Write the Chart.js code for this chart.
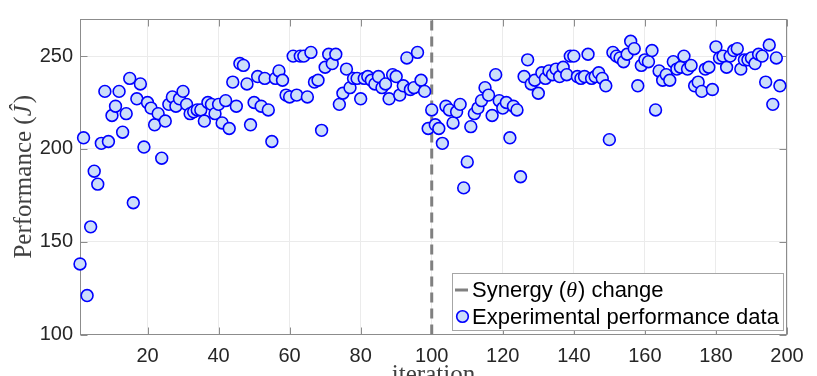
<!DOCTYPE html>
<html><head><meta charset="utf-8">
<script src="https://cdn.jsdelivr.net/npm/chart.js@4.4.1/dist/chart.umd.min.js"></script>
<style>
html,body{margin:0;padding:0;background:#fff;overflow:hidden;width:817px;height:376px;}
#wrap{position:relative;width:817px;height:394px;}
canvas{display:block;}
</style></head><body>
<div id="wrap"><canvas id="c" width="817" height="394"></canvas></div>
<script>
// ---- data ----
const iterations = [1,2,3,4,5,6,7,8,9,10,11,12,13,14,15,16,17,18,19,20,21,22,23,24,25,26,27,28,29,30,31,32,33,34,35,36,37,38,39,40,41,42,43,44,45,46,47,48,49,50,51,52,53,54,55,56,57,58,59,60,61,62,63,64,65,66,67,68,69,70,71,72,73,74,75,76,77,78,79,80,81,82,83,84,85,86,87,88,89,90,91,92,93,94,95,96,97,98,99,100,101,102,103,104,105,106,107,108,109,110,111,112,113,114,115,116,117,118,119,120,121,122,123,124,125,126,127,128,129,130,131,132,133,134,135,136,137,138,139,140,141,142,143,144,145,146,147,148,149,150,151,152,153,154,155,156,157,158,159,160,161,162,163,164,165,166,167,168,169,170,171,172,173,174,175,176,177,178,179,180,181,182,183,184,185,186,187,188,189,190,191,192,193,194,195,196,197,198];
const performance = [138,206,121,158,188,181,203,231,204,218,223,231,209,219,238,171,227,235,201,225,222,213,219,195,215,224,228,223,227,231,224,219,220,221,221,215,225,224,219,224,214,226,211,236,223,246,245,235,213,225,239,223,238,221,204,238,242,237,229,228,250,229,250,250,228,252,236,237,210,244,251,246,251,224,230,243,233,238,238,227,238,239,237,235,239,233,235,227,240,239,229,234,249,232,233,252,237,231,211,221,213,211,203,223,221,214,220,224,179,193,212,219,222,226,233,229,218,240,226,222,225,206,223,221,185,239,248,235,237,230,241,238,242,240,243,239,244,240,250,250,239,238,239,251,238,239,241,238,234,205,252,250,249,247,251,258,254,234,245,248,247,253,221,242,237,240,237,247,243,244,250,243,245,234,236,231,243,244,232,255,249,250,244,250,253,254,243,248,248,249,246,251,250,236,256,224,249,234];
const synergyChangeIteration = 100;
const xTickValues = [20,40,60,80,100,120,140,160,180,200];
const yTickValues = [100,150,200,250];
const xRange = [1,200];
const yRange = [100,270];
const seriesLabels = ['Synergy (θ) change','Experimental performance data'];

// ---- styles ----
const FILL = 'rgb(204,222,250)';
const EDGE = '#0000ff';
const DASH = '#808080';
const SANS = '"Liberation Sans", Arial, Helvetica, sans-serif';
const SERIF = '"Liberation Serif", "Times New Roman", serif';

const points = iterations.map((x,i)=>({x:x, y:performance[i]}));
const synergyLine = [{x:synergyChangeIteration,y:yRange[0]},{x:synergyChangeIteration,y:yRange[1]}];

const framePlugin = {
  id:'frame',
  beforeDatasetsDraw(chart){
    const {ctx, chartArea:a, scales:{x,y}} = chart;
    ctx.save();
    ctx.strokeStyle = '#8c8c8c'; ctx.lineWidth = 1;
    const L=Math.round(a.left)+0.5, R=Math.round(a.right)-0.5, T=Math.round(a.top)+0.5, B=Math.round(a.bottom)-0.5;
    ctx.strokeRect(L,T,R-L,B-T);
    ctx.beginPath();
    const tl = 7;
    xTickValues.forEach(v=>{const px=Math.round(x.getPixelForValue(v))+0.5; ctx.moveTo(px,B); ctx.lineTo(px,B-tl); ctx.moveTo(px,T); ctx.lineTo(px,T+tl);});
    yTickValues.forEach(v=>{const py=Math.round(y.getPixelForValue(v))+0.5; ctx.moveTo(L,py); ctx.lineTo(L+tl,py); ctx.moveTo(R,py); ctx.lineTo(R-tl,py);});
    ctx.stroke();
    ctx.restore();
  },
  afterDraw(chart){
    const {ctx, chartArea:a} = chart;
    ctx.save();
    // y-axis title with italic J-hat
    const fs = 25;
    const p1 = 'Performance (', p2 = 'Ĵ', p3 = ')';
    ctx.font = fs+'px '+SERIF; const w1 = ctx.measureText(p1).width, w3 = ctx.measureText(p3).width;
    ctx.font = 'italic '+fs+'px '+SERIF; const w2 = ctx.measureText(p2).width;
    const tot = w1+w2+w3+2;
    ctx.translate(24, (a.top+a.bottom)/2);
    ctx.rotate(-Math.PI/2);
    ctx.fillStyle = '#404040'; ctx.textBaseline='middle'; ctx.textAlign='left';
    let cx = -tot/2;
    ctx.font = fs+'px '+SERIF; ctx.fillText(p1,cx,0); cx+=w1;
    ctx.font = 'italic '+fs+'px '+SERIF; ctx.fillText(p2,cx,0); cx+=w2+2;
    ctx.font = fs+'px '+SERIF; ctx.fillText(p3,cx,0);
    ctx.restore();

    // legend box
    ctx.save();
    const bx=452.5, by=273.5, bw=331, bh=57;
    ctx.fillStyle='#fff'; ctx.fillRect(bx,by,bw,bh);
    ctx.strokeStyle='#a6a6a6'; ctx.lineWidth=1; ctx.strokeRect(bx,by,bw,bh);
    // row 1: dashed line symbol
    ctx.strokeStyle=DASH; ctx.lineWidth=3; ctx.beginPath(); ctx.moveTo(455,290); ctx.lineTo(468,290); ctx.stroke();
    ctx.fillStyle='#000'; ctx.textBaseline='alphabetic'; ctx.textAlign='left';
    const lf = 22;
    const parts = seriesLabels[0].split('θ');
    let tx = 472;
    ctx.font = lf+'px '+SANS; ctx.fillText(parts[0],tx,297); tx+=ctx.measureText(parts[0]).width;
    ctx.font = 'italic '+lf+'px '+SERIF; ctx.fillText('θ',tx,297); tx+=ctx.measureText('θ').width+1;
    ctx.font = lf+'px '+SANS; ctx.fillText(parts[1],tx,297);
    // row 2: circle symbol
    ctx.beginPath(); ctx.arc(462.5,316.5,5.8,0,Math.PI*2); ctx.fillStyle=FILL; ctx.fill();
    ctx.lineWidth=1.6; ctx.strokeStyle=EDGE; ctx.stroke();
    ctx.fillStyle='#000'; ctx.font = lf+'px '+SANS; ctx.fillText(seriesLabels[1],472,324);
    ctx.restore();
  }
};

new Chart(document.getElementById('c'), {
  data:{
    datasets:[
      {type:'line', label:seriesLabels[0], data:synergyLine, borderColor:DASH, borderWidth:3,
       borderDash:[10,6], pointRadius:0, fill:false, order:2},
      {type:'scatter', label:seriesLabels[1], data:points, backgroundColor:FILL, borderColor:EDGE,
       borderWidth:1.6, pointRadius:5.9, pointHoverRadius:5.9, clip:false, order:1}
    ]
  },
  options:{
    responsive:false, animation:false, devicePixelRatio:1,
    layout:{padding:{top:10,right:30,bottom:0,left:0}},
    plugins:{legend:{display:false}, tooltip:{enabled:false}},
    scales:{
      x:{type:'linear', min:xRange[0], max:xRange[1],
        afterBuildTicks:s=>{s.ticks = xTickValues.map(v=>({value:v}));},
        afterFit:s=>{s.height = 59.5;},
        grid:{color:'#ebebeb', drawTicks:false}, border:{display:false},
        ticks:{padding:10, color:'#262626', font:{family:SANS, size:20}, maxRotation:0, autoSkip:false},
        title:{display:true, text:'iteration', color:'#404040', font:{family:SERIF, size:25}, padding:{top:0,bottom:4}}
      },
      y:{type:'linear', min:yRange[0], max:yRange[1],
        afterBuildTicks:s=>{s.ticks = yTickValues.map(v=>({value:v}));},
        afterFit:s=>{s.width = 80;},
        grid:{color:'#ebebeb', drawTicks:false}, border:{display:false},
        ticks:{padding:7, color:'#262626', font:{family:SANS, size:20}}
      }
    }
  },
  plugins:[framePlugin]
});
</script>
</body></html>
